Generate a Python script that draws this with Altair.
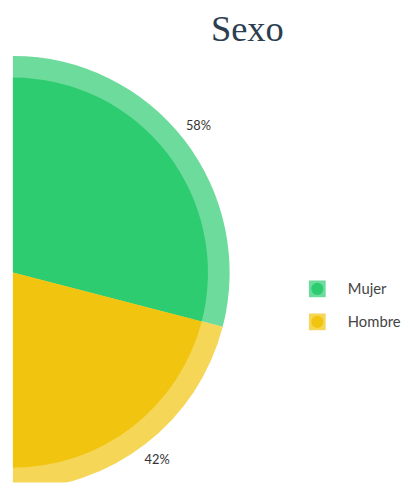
import math
import altair as alt
import pandas as pd

# ---- data ----
categories = ["Mujer", "Hombre"]
percents = [58, 42]
colors = ["#2ecc71", "#f1c40f"]
title_text = "Sexo"

# ---- layout constants ----
CX, CY = 0, 265            # pie centre (plot coords)
R_IN, R_OUT = 198, 220
START = math.radians(255.7)
LABEL_ANGLES = [51.7, 142.4]   # degrees clockwise from 12 o'clock
LABEL_R = 240

df = pd.DataFrame({"sexo": categories, "pct": percents, "idx": range(len(categories))})
df["label"] = [f"{p}%" for p in percents]
lab = df.copy()
lab["ang"] = LABEL_ANGLES

color = alt.Color("sexo:N", scale=alt.Scale(domain=categories, range=colors), legend=None)
theta = alt.Theta("pct:Q", stack=True, scale=alt.Scale(range=[START, START + 2 * math.pi]))
order = alt.Order("idx:Q")

base = alt.Chart(df)
ring = base.mark_arc(radius=R_OUT, opacity=0.7, clip=True).encode(
    theta=theta, color=color, order=order, x=alt.value(CX), y=alt.value(CY))
pie = base.mark_arc(radius=R_IN, clip=True).encode(
    theta=theta, color=color, order=order, x=alt.value(CX), y=alt.value(CY))

labels = alt.Chart(lab).mark_text(font="Lato", fontSize=13, color="#333333",
                                  align="center", baseline="middle").encode(
    theta=alt.Theta("ang:Q", scale=alt.Scale(domain=[0, 360], range=[0, 2 * math.pi])),
    radius=alt.value(LABEL_R), text="label:N", x=alt.value(CX), y=alt.value(CY))

title = alt.Chart(pd.DataFrame({"t": [title_text]})).mark_text(
    font="Liberation Serif", fontSize=37, color="#2c3e50", align="center",
    baseline="alphabetic").encode(text="t:N", x=alt.value(238), y=alt.value(30))

ly = alt.Y("sexo:N", scale=alt.Scale(domain=categories, range=[281.5, 315], padding=0), axis=None)
leg_sq = base.mark_square(size=289, opacity=0.7).encode(
    y=ly, x=alt.value(309), color=color)
leg_ci = base.mark_circle(size=150, opacity=1).encode(
    y=ly, x=alt.value(309), color=color)
leg_tx = base.mark_text(font="Lato", fontSize=15, color="#444444", align="left",
                        baseline="middle").encode(y=ly, x=alt.value(340), text="sexo:N")

chart = alt.layer(ring, pie, labels, title, leg_sq, leg_ci, leg_tx).resolve_scale(
    theta="independent", y="independent"
).properties(
    width=395, height=478,
    padding={"left": 5, "top": 0, "right": 0, "bottom": 0},
    autosize=alt.AutoSizeParams(type="none"),
).configure_view(stroke=None)

chart.save("out.html", embed_options={"renderer": "svg", "actions": False})
